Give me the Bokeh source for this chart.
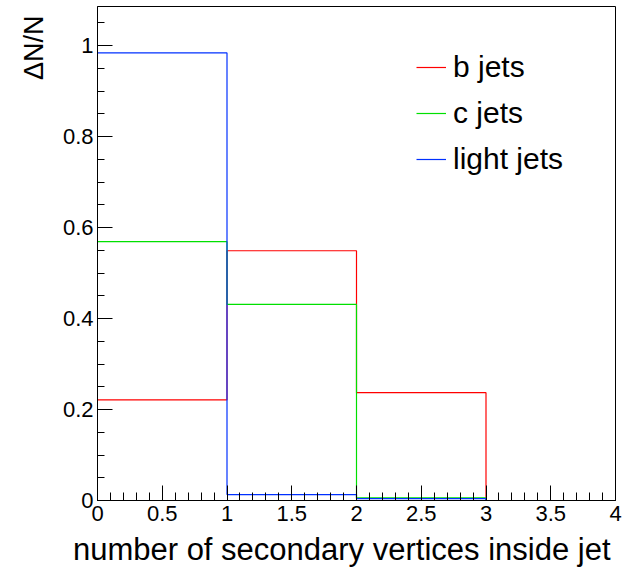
from bokeh.plotting import figure
from bokeh.models import (FixedTicker, CustomJSTickFormatter, Legend, LegendItem, Range1d, Title)
from bokeh.embed import file_html
from bokeh.resources import INLINE

# ---- data ----
bin_edges = [0, 1, 2, 3, 4]
b_jets = [0.221, 0.549, 0.237, 0.0]
c_jets = [0.569, 0.431, 0.006, 0.0]
light_jets = [0.984, 0.013, 0.004, 0.0]
series_names = ["b jets", "c jets", "light jets"]
series_colors = ["#ff0000", "#00e000", "#0030ff"]
x_major = [0, 0.5, 1, 1.5, 2, 2.5, 3, 3.5, 4]
x_minor = [i / 10 for i in range(0, 41)]
y_major = [0, 0.2, 0.4, 0.6, 0.8, 1.0]
y_minor = [i / 20 for i in range(0, 22)]
x_title = "number of secondary vertices inside jet"
y_title = "\u0394N/N"

FONT = "Liberation Sans"

p = figure(width=634, height=573, output_backend="svg", toolbar_location=None,
           x_range=Range1d(0, 4), y_range=Range1d(0, 1.086),
           min_border_left=97, min_border_right=19, min_border_top=6, min_border_bottom=73)
p.xgrid.visible = False
p.ygrid.visible = False
p.outline_line_color = "black"
p.outline_line_width = 1
p.background_fill_color = "white"
p.border_fill_color = "white"

fmt = CustomJSTickFormatter(code="return String(Math.round(tick*100)/100)")
for ax, maj, mnr in ((p.xaxis[0], x_major, x_minor), (p.yaxis[0], y_major, y_minor)):
    ax.ticker = FixedTicker(ticks=maj, minor_ticks=mnr)
    ax.formatter = fmt
    ax.major_tick_in = 15
    ax.major_tick_out = 0
    ax.minor_tick_in = 8
    ax.minor_tick_out = 0
    ax.major_label_text_font = FONT
    ax.major_label_text_font_size = "22px"
    ax.major_label_text_color = "black"
    ax.axis_line_color = "black"
    ax.major_tick_line_color = "black"
    ax.minor_tick_line_color = "black"
p.yaxis[0].minor_tick_in = 7
p.yaxis[0].major_label_standoff = 4
p.xaxis[0].major_label_standoff = 5

renderers = []
for vals, col in zip([b_jets, c_jets, light_jets], series_colors):
    r = p.step(x=bin_edges, y=vals + [vals[-1]], mode="after", line_color=col, line_width=1.2)
    renderers.append(r)

legend = Legend(items=[LegendItem(label=n, renderers=[r]) for n, r in zip(series_names, renderers)],
                location=(319, 321), padding=0, margin=0, spacing=6,
                glyph_width=30, glyph_height=40, label_standoff=7,
                label_text_font=FONT, label_text_font_size="30px", label_text_color="black",
                border_line_color=None, background_fill_alpha=0)
p.add_layout(legend)

p.add_layout(Title(text=x_title, align="right", offset=5, standoff=13,
                   text_font=FONT, text_font_size="31px", text_font_style="normal",
                   text_color="black"), "below")
p.add_layout(Title(text=y_title, align="right", offset=9, standoff=21,
                   text_font=FONT, text_font_size="27px", text_font_style="normal",
                   text_color="black"), "left")

open("out.html", "w").write(file_html(p, INLINE))
